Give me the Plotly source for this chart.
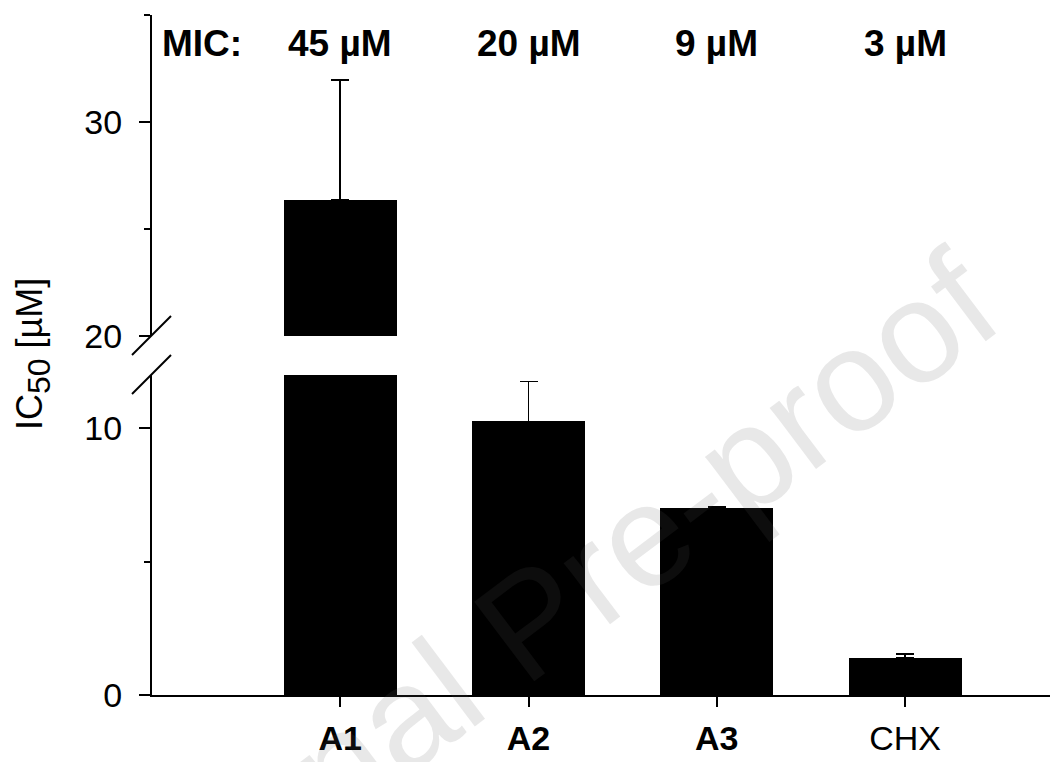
import plotly.graph_objects as go

categories = ["A1", "A2", "A3", "CHX"]
label_bold = [True, True, True, False]
x_pos = [1, 2, 3, 4]
ic50 = [26.35, 10.26, 7.0, 1.39]
ic50_err = [5.6, 1.5, 0.05, 0.15]
mic_labels = ["45 µM", "20 µM", "9 µM", "3 µM"]
lower_ticks = [0, 10]
lower_minor = [5]
upper_ticks = [20, 30]
upper_minor = [25, 35]

W, H = 1050, 762
L = 152
PW = W - L

def px_x(p):
    return (p - L) / PW

def px_y(p):
    return (H - p) / H

FONT = "Arial, 'Liberation Sans', sans-serif"

fig = go.Figure()
for xa, ya in [("x", "y"), ("x2", "y2")]:
    fig.add_trace(go.Bar(
        x=x_pos, y=ic50, width=0.6,
        marker=dict(color="black", line=dict(width=0)),
        error_y=dict(type="data", array=ic50_err, arrayminus=[0] * len(ic50_err),
                     symmetric=False, visible=True, color="black",
                     thickness=1.6, width=9),
        xaxis=xa, yaxis=ya, showlegend=False, hoverinfo="skip"))

ticktext = [f"<b>{c}</b>" if b else c for c, b in zip(categories, label_bold)]

axis_common = dict(showline=True, linewidth=2, linecolor="black", showgrid=False,
                   zeroline=False, ticks="outside", tickwidth=2, tickcolor="black",
                   automargin=False,
                   tickfont=dict(family=FONT, size=34, color="black"))

fig.update_layout(
    width=W, height=H,
    margin=dict(l=L, r=0, t=0, b=0, autoexpand=False),
    paper_bgcolor="white", plot_bgcolor="white",
    bargap=0,
    xaxis=dict(domain=[0, 1], range=[0, 4.77], anchor="y", tickvals=x_pos,
               ticktext=ticktext, ticklen=10, ticklabelstandoff=2, **axis_common),
    xaxis2=dict(domain=[0, 1], range=[0, 4.77], anchor="y2", matches="x",
                visible=False, automargin=False),
    yaxis=dict(domain=[px_y(695), px_y(375)], range=[0, 12], anchor="x",
               tickvals=lower_ticks, ticklen=11, ticklabelstandoff=10,
               minor=dict(tickvals=lower_minor, ticklen=6, tickwidth=2,
                          ticks="outside", tickcolor="black"),
               **axis_common),
    yaxis2=dict(domain=[px_y(336), px_y(15)], range=[20, 35], anchor="x2",
                tickvals=upper_ticks, ticklen=11, ticklabelstandoff=10,
                minor=dict(tickvals=upper_minor, ticklen=6, tickwidth=2,
                           ticks="outside", tickcolor="black"),
                **axis_common),
)

# axis break marks
for (x0, y0, x1, y1) in [(132, 355, 171, 316), (132, 394, 171, 355)]:
    fig.add_shape(type="line", xref="paper", yref="paper",
                  x0=px_x(x0), y0=px_y(y0), x1=px_x(x1), y1=px_y(y1),
                  line=dict(color="black", width=2))

# MIC labels
fig.add_annotation(text="<b>MIC:</b>", xref="paper", yref="paper",
                   x=px_x(160), y=px_y(44), xanchor="left", yanchor="middle",
                   showarrow=False, font=dict(family=FONT, size=37, color="black"))
for xv, lab in zip(x_pos, mic_labels):
    fig.add_annotation(text=f"<b>{lab}</b>", xref="x", yref="paper",
                       x=xv, y=px_y(44), xanchor="center", yanchor="middle",
                       showarrow=False, font=dict(family=FONT, size=37, color="black"))

# y axis title
fig.add_annotation(text='IC<sub><span style="font-size:32px">50</span></sub> [µM]',
                   xref="paper", yref="paper",
                   x=px_x(33), y=px_y(354), xanchor="center", yanchor="middle",
                   textangle=-90, showarrow=False,
                   font=dict(family=FONT, size=36, color="black"))

# watermark
fig.add_annotation(text="Journal Pre-proof", xref="paper", yref="paper",
                   x=px_x(530), y=px_y(622), xanchor="center", yanchor="middle",
                   textangle=-37, showarrow=False,
                   font=dict(family=FONT, size=145, color="rgba(90,90,90,0.14)"))

fig.write_html("out.html")
